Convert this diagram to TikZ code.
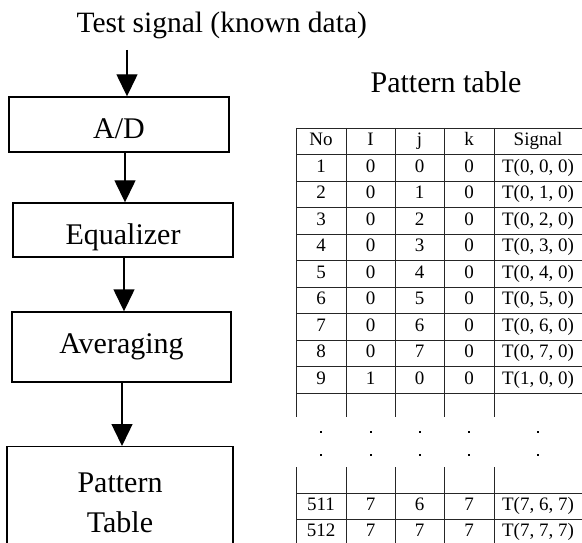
\documentclass[tikz,border=0pt]{standalone}
\usepackage{fontspec}
\setmainfont{Liberation Serif}
\usetikzlibrary{arrows.meta}

\newcommand{\bigfont}{\fontsize{30}{40}\selectfont}
\newcommand{\cellfont}{\fontsize{19}{22}\selectfont}

\tikzset{
  block/.style={draw, line width=1.4pt, minimum width=220pt, inner sep=0pt, font=\bigfont},
  oneline/.style={text height=28pt, text depth=0pt},
  flow/.style={line width=1.4pt, -{Triangle[width=21pt,length=22pt]}},
  grid/.style={line width=0.9pt, black!85},
  cell/.style={font=\cellfont, inner sep=0pt, text height=13pt, text depth=4pt}
}

\begin{document}
\begin{tikzpicture}[x=1pt,y=-1pt]
\useasboundingbox (0,0) rectangle (582,543);
\clip (0,0) rectangle (582,543);

% flow chart
\node[anchor=base west, font=\fontsize{29.5}{36}\selectfont] (title) at (73,33) {Test signal (known data)};
\coordinate (in) at (127,50);
\node[block, oneline, minimum height=55pt] (ad) at (119,124.5) {A/D};
\node[block, oneline, minimum height=54pt] (eq) at (123,230) {Equalizer};
\node[block, minimum width=219pt, minimum height=70pt] (avg) at (121.5,347) {Averaging};
\node[block, minimum width=226pt, minimum height=112pt, align=center, anchor=north] (pt) at (120,446) {Pattern\\Table};

\draw[flow] (in) -- (in |- ad.north);
\draw[flow] ([xshift=6pt]ad.south) -- ([xshift=2pt]eq.north);
\draw[flow] ([xshift=1pt]eq.south) -- ([xshift=2.5pt]avg.north);
\draw[flow] ([xshift=0.5pt]avg.south) -- ([xshift=2pt]pt.north);

% pattern table
\node[anchor=base, font=\bigfont] (ptitle) at (446,93) {Pattern table};
\foreach \m in {0,...,10}
  \draw[grid] (296,{128+26.5*\m}) -- (584,{128+26.5*\m});
\foreach \y in {493,519}
  \draw[grid] (296,\y) -- (584,\y);
\foreach \x in {296,346,395,444,494,584} {
  \draw[grid] (\x,128) -- (\x,417);
  \draw[grid] (\x,467) -- (\x,545);
}
\foreach \x/\t/\nm in {321/No/hno,370.5/I/hi,419.5/j/hj,469/k/hk,538/Signal/hsig}
  \node[cell] (\nm) at (\x,141.25) {\t};
\foreach \n/\i/\j/\k in {1/0/0/0,2/0/1/0,3/0/2/0,4/0/3/0,5/0/4/0,6/0/5/0,7/0/6/0,8/0/7/0,9/1/0/0} {
  \node[cell] (no\n) at (321,{141.25+26.5*\n}) {\n};
  \node[cell] (i\n) at (370.5,{141.25+26.5*\n}) {\i};
  \node[cell] (j\n) at (419.5,{141.25+26.5*\n}) {\j};
  \node[cell] (k\n) at (469,{141.25+26.5*\n}) {\k};
  \node[cell] (sig\n) at (538,{141.25+26.5*\n}) {T(\i, \j, \k)};
}
% dots
\foreach \x in {321,370.5,419.5,469,538}
  \foreach \y in {432,455}
    \fill ({\x-1},{\y-1}) rectangle ++(2,2);
\foreach \n/\i/\j/\k/\y in {511/7/6/7/506,512/7/7/7/532} {
  \node[cell] (no\n) at (321,\y) {\n};
  \node[cell] (i\n) at (370.5,\y) {\i};
  \node[cell] (j\n) at (419.5,\y) {\j};
  \node[cell] (k\n) at (469,\y) {\k};
  \node[cell] (sig\n) at (538,\y) {T(\i, \j, \k)};
}
\end{tikzpicture}
\end{document}
